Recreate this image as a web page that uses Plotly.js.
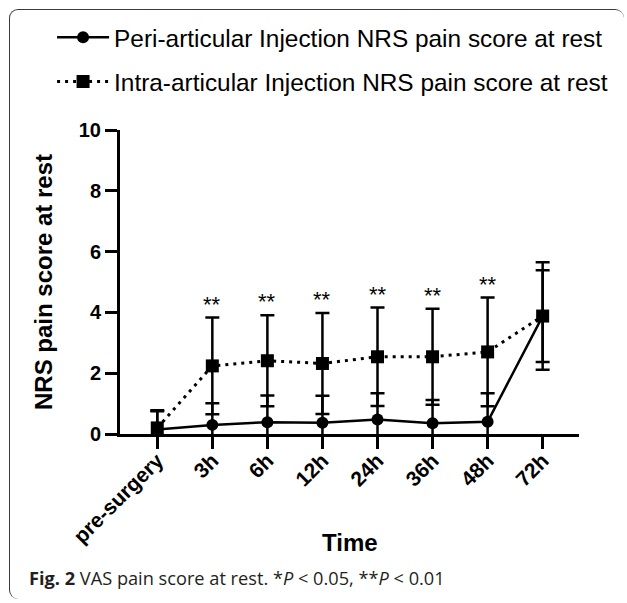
<!DOCTYPE html>
<html>
<head>
<meta charset="utf-8">
<script src="https://cdn.plot.ly/plotly-3.0.1.min.js"></script>
<style>
  html, body { margin: 0; padding: 0; background: #fff; }
  #frame { position: absolute; left: 9px; top: 9px; width: 614px; height: 589px;
           border-top: 1.5px solid #3a3a3a; border-left: 1.5px solid #3a3a3a;
           border-radius: 9px; pointer-events: none; z-index: 5; }
  #chart { width: 627px; height: 603px; }
</style>
</head>
<body>
<div id="frame"></div>
<div id="chart"></div>
<script>
// ---- data ----
const timepoints = ['pre-surgery', '3h', '6h', '12h', '24h', '36h', '48h', '72h'];
const periMean = [0.15, 0.30, 0.39, 0.37, 0.48, 0.35, 0.40, 3.88];
const periSD   = [0.60, 0.71, 0.88, 0.89, 0.86, 0.77, 0.94, 1.77];
const intraMean = [0.20, 2.24, 2.41, 2.32, 2.54, 2.54, 2.70, 3.88];
const intraSD   = [0.58, 1.59, 1.50, 1.66, 1.62, 1.58, 1.79, 1.51];
const significance = ['', '**', '**', '**', '**', '**', '**', ''];
const yTicks = [0, 2, 4, 6, 8, 10];
const periName = 'Peri-articular Injection NRS pain score at rest';
const intraName = 'Intra-articular Injection NRS pain score at rest';
const xTitle = 'Time';
const yTitle = 'NRS pain score at rest';
const captionText = '<b>Fig. 2</b> VAS pain score at rest. *<i>P</i> &lt; 0.05, **<i>P</i> &lt; 0.01';

// ---- chart ----
const FONT = 'Liberation Sans, Arial, Helvetica, sans-serif';
const errStyle = { type: 'data', visible: true, color: '#000', thickness: 2.5, width: 7 };

const tracePeri = {
  x: timepoints, y: periMean, name: periName, type: 'scatter', mode: 'lines+markers',
  line: { color: '#000', width: 2.5 },
  marker: { symbol: 'circle', size: 12, color: '#000' },
  error_y: Object.assign({ array: periSD, symmetric: true }, errStyle),
  legend: 'legend'
};
const traceIntra = {
  x: timepoints, y: intraMean, name: intraName, type: 'scatter', mode: 'lines+markers',
  line: { color: '#000', width: 3, dash: '3px,5px' },
  marker: { symbol: 'square', size: 13, color: '#000' },
  error_y: Object.assign({ array: intraSD, symmetric: true }, errStyle),
  legend: 'legend2'
};

const annotations = [];
timepoints.forEach((t, i) => {
  if (significance[i]) {
    annotations.push({
      x: t, y: intraMean[i] + intraSD[i], xref: 'x', yref: 'y',
      text: significance[i], showarrow: false, yanchor: 'bottom', yshift: -1,
      font: { family: FONT, size: 22, color: '#000' }
    });
  }
});
// x-axis title placed as in the reference (between the slanted tick labels)
annotations.push({
  xref: 'paper', yref: 'paper', x: 0.501, y: -0.358, xanchor: 'center', yanchor: 'middle',
  text: xTitle, showarrow: false,
  font: { family: FONT, size: 24, color: '#000', weight: 'bold' }
});
annotations.push({
  xref: 'paper', yref: 'paper', x: -0.2033, y: -0.4729, xanchor: 'left', yanchor: 'middle',
  text: captionText, showarrow: false, align: 'left',
  font: { family: 'Open Sans, Noto Sans, sans-serif', size: 18.2, color: '#231f20' }
});

const legendFont = { family: FONT, size: 24.4, color: '#000' };
const layout = {
  width: 627, height: 603,
  margin: { l: 120, r: 48, t: 129.5, b: 169, autoexpand: false },
  paper_bgcolor: '#fff', plot_bgcolor: '#fff',
  showlegend: true,
  legend: { x: -0.1480, y: 1.3048, xanchor: 'left', yanchor: 'middle', font: legendFont,
            bgcolor: 'rgba(0,0,0,0)', borderwidth: 0, itemwidth: 52 },
  legend2: { x: -0.1480, y: 1.159, xanchor: 'left', yanchor: 'middle', font: legendFont,
             bgcolor: 'rgba(0,0,0,0)', borderwidth: 0, itemwidth: 52 },
  xaxis: {
    type: 'category', categoryorder: 'array', categoryarray: timepoints,
    range: [-0.677, 7.66], showgrid: false, zeroline: false,
    showline: true, linecolor: '#000', linewidth: 3,
    ticks: 'outside', ticklen: 12, tickwidth: 3, tickcolor: '#000',
    tickangle: -45, ticklabelstandoff: -9,
    tickfont: { family: FONT, size: 21, color: '#000', weight: 'bold' }
  },
  yaxis: {
    range: [0, 10], tickvals: yTicks, ticktext: yTicks.map(String),
    showgrid: false, zeroline: false,
    showline: true, linecolor: '#000', linewidth: 3,
    ticks: 'outside', ticklen: 12, tickwidth: 3, tickcolor: '#000',
    tickfont: { family: FONT, size: 20, color: '#000', weight: 'bold' },
    title: { text: yTitle, font: { family: FONT, size: 24, color: '#000', weight: 'bold' }, standoff: 20 }
  },
  annotations: annotations
};

Plotly.newPlot('chart', [tracePeri, traceIntra], layout, { staticPlot: true, displayModeBar: false });
</script>
</body>
</html>
